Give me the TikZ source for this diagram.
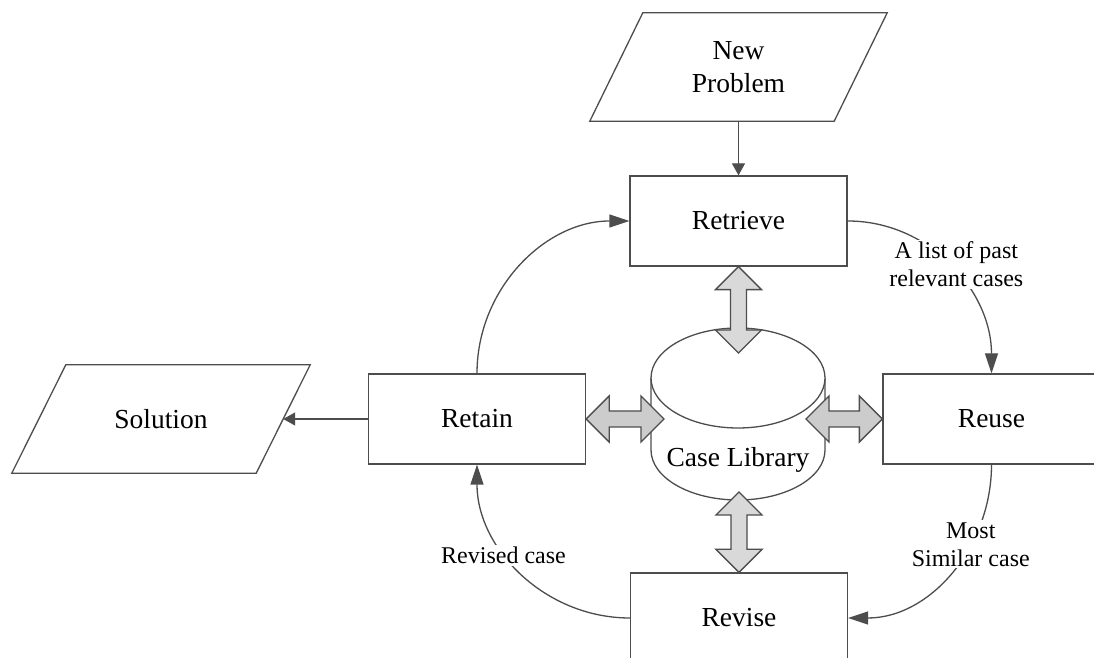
\documentclass[tikz,border=0pt]{standalone}
\usepackage{fontspec}
\setmainfont{Liberation Serif}
\usetikzlibrary{arrows.meta,calc}

\definecolor{edge}{RGB}{77,77,77}
\definecolor{blockv}{RGB}{217,217,217}
\definecolor{blockh}{RGB}{204,204,204}

\tikzset{
  stage/.style={draw=edge, line width=1.3pt, fill=white, minimum width=217pt,
    minimum height=90pt, inner sep=0pt, font=\fontsize{27.5}{33}\selectfont},
  iobox/.style={minimum width=244pt, minimum height=108pt, inner sep=0pt,
    align=center, font=\fontsize{27.5}{33}\selectfont},
  outline/.style={draw=edge, line width=1.3pt, fill=white},
  flow/.style={draw=edge, line width=1.3pt, -{Triangle[length=20pt,width=13pt]}},
  feed/.style={draw=edge, line width=1.3pt, -{Triangle[length=12pt,width=13pt]}},
  note/.style={fill=white, inner sep=2pt, align=center,
    font=\fontsize{24}{28}\selectfont},
  fatarrow/.style={draw=edge, line width=1.3pt, line join=miter},
}

% vertical double block arrow, tips #1 (upper) and #2 (lower)
\newcommand{\vfat}[3]{%
  \path[fatarrow, fill=#3] (#1) -- ++(23pt,-23pt) -- ++(-15pt,0pt)
    -- ($(#2)+(8pt,23pt)$) -- ++(15pt,0pt) -- (#2) -- ++(-23pt,23pt)
    -- ++(15pt,0pt) -- ($(#1)+(-8pt,-23pt)$) -- ++(-15pt,0pt) -- cycle;}
% horizontal double block arrow, tips #1 (left) and #2 (right)
\newcommand{\hfat}[3]{%
  \path[fatarrow, fill=#3] (#1) -- ++(23pt,23pt) -- ++(0pt,-15pt)
    -- ($(#2)+(-23pt,8pt)$) -- ++(0pt,15pt) -- (#2) -- ++(-23pt,-23pt)
    -- ++(0pt,15pt) -- ($(#1)+(23pt,-8pt)$) -- ++(0pt,-15pt) -- cycle;}

\begin{document}
\begin{tikzpicture}[x=1pt, y=1pt]
  \useasboundingbox (0,0) rectangle (1094,658);
  \clip (0,0) rectangle (1094,658);
  \fill[white] (0,0) rectangle (1094,658);

  % input / output parallelograms
  \node[iobox] (newprob) at (738.5,591) {};
  \path[outline] ([xshift=-26.5pt]newprob.south west) -- ([xshift=-26.5pt]newprob.south east)
    -- ([xshift=26.5pt]newprob.north east) -- ([xshift=26.5pt]newprob.north west) -- cycle;
  \node[iobox] (newprobtext) at (newprob) {New\\Problem};

  \node[iobox] (sol) at (161,239) {};
  \path[outline] ([xshift=-27pt]sol.south west) -- ([xshift=-27pt]sol.south east)
    -- ([xshift=27pt]sol.north east) -- ([xshift=27pt]sol.north west) -- cycle;
  \node[iobox] (soltext) at (sol) {Solution};

  % the four stages
  \node[stage] (retrieve) at (738.5,437) {Retrieve};
  \node[stage] (retain)   at (477,239)   {Retain};
  \node[stage] (reuse)    at (991.5,239) {Reuse};
  \node[stage] (revise)   at (739,40)    {Revise};

  % case library cylinder
  \path[outline] (651,280) -- (651,208)
    arc[start angle=180, end angle=360, x radius=87pt, y radius=50pt] -- (825,280);
  \path[outline] (738,280) ellipse [x radius=87pt, y radius=50pt];
  \node[font=\fontsize{27.5}{33}\selectfont] (lib) at (738,198) {Case Library};
  \coordinate (libtop)    at (738.5,305);
  \coordinate (libbottom) at (739,166);
  \coordinate (libleft)   at (664,239);
  \coordinate (libright)  at (806,239);

  % exchanges with the library
  \vfat{retrieve.south}{libtop}{blockv}
  \vfat{libbottom}{revise.north}{blockv}
  \hfat{retain.east}{libleft}{blockh}
  \hfat{libright}{reuse.west}{blockh}

  % straight connectors
  \draw[feed] (newprob.south) -- (retrieve.north);
  \draw[feed] (retain.west) -- (sol.east);

  % the cycle
  \draw[flow] (retrieve.east) to[out=0, in=90]
    node[note, pos=0.5, xshift=6pt, yshift=2pt] {A list of past\\relevant cases} (reuse.north);
  \draw[flow] (reuse.south) to[out=-90, in=0]
    node[note, pos=0.35] {Most\\Similar case} (revise.east);
  \draw[flow] (revise.west) to[out=180, in=-90]
    node[note, pos=0.6, xshift=-3pt] {Revised case} (retain.south);
  \draw[flow] (retain.north) to[out=90, in=180] (retrieve.west);
\end{tikzpicture}
\end{document}
